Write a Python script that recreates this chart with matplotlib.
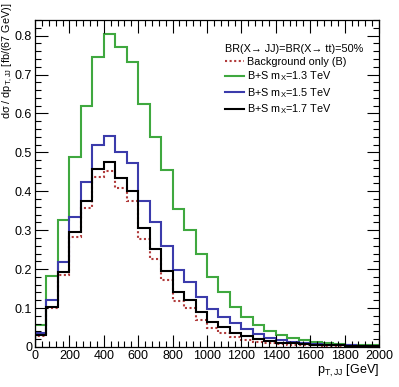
import numpy as np
import matplotlib
matplotlib.use("Agg")
import matplotlib.pyplot as plt
from matplotlib.ticker import MultipleLocator

plt.rcParams["font.family"] = ["Liberation Sans", "DejaVu Sans"]
plt.rcParams["mathtext.fontset"] = "custom"
plt.rcParams["mathtext.rm"] = "Liberation Sans"
plt.rcParams["mathtext.it"] = "Liberation Sans"

# 30 bins of 66.7 GeV from 0 to 2000 GeV
bin_edges = np.linspace(0, 2000, 31)

background = [0.028, 0.100, 0.185, 0.282, 0.356, 0.436, 0.453, 0.408, 0.375, 0.278,
              0.226, 0.172, 0.118, 0.101, 0.069, 0.048, 0.037, 0.026, 0.019, 0.014,
              0.010, 0.008, 0.006, 0.005, 0.004, 0.003, 0.003, 0.002, 0.002, 0.002]
sig_13 = [0.057, 0.182, 0.326, 0.487, 0.620, 0.746, 0.804, 0.771, 0.733, 0.623,
          0.539, 0.455, 0.354, 0.301, 0.239, 0.181, 0.142, 0.102, 0.076, 0.057,
          0.042, 0.031, 0.022, 0.017, 0.013, 0.010, 0.008, 0.006, 0.005, 0.004]
sig_15 = [0.035, 0.121, 0.219, 0.335, 0.425, 0.518, 0.543, 0.502, 0.472, 0.375,
          0.320, 0.259, 0.198, 0.168, 0.129, 0.098, 0.078, 0.061, 0.045, 0.033,
          0.024, 0.017, 0.013, 0.010, 0.008, 0.006, 0.005, 0.004, 0.003, 0.003]
sig_17 = [0.031, 0.102, 0.192, 0.296, 0.374, 0.457, 0.476, 0.434, 0.402, 0.305,
          0.253, 0.196, 0.142, 0.121, 0.091, 0.065, 0.051, 0.037, 0.027, 0.020,
          0.015, 0.011, 0.009, 0.007, 0.006, 0.005, 0.004, 0.003, 0.003, 0.002]

fig = plt.figure(figsize=(3.99, 3.87), dpi=100)
ax = fig.add_axes([0.0877, 0.1034, 0.8623, 0.8449])

ax.stairs(background, bin_edges, color="#b03a3a", lw=1.5, ls=(0, (1, 1.2)),
          label="Background only (B)")
ax.stairs(sig_13, bin_edges, color="#3fa83f", lw=1.5, label=r"B+S m$_{\rm X}$=1.3 TeV")
ax.stairs(sig_15, bin_edges, color="#3b3bab", lw=1.5, label=r"B+S m$_{\rm X}$=1.5 TeV")
ax.stairs(sig_17, bin_edges, color="black", lw=1.5, label=r"B+S m$_{\rm X}$=1.7 TeV")

ax.set_xlim(0, 2000)
ax.set_ylim(0, 0.84)
ax.xaxis.set_major_locator(MultipleLocator(200))
ax.xaxis.set_minor_locator(MultipleLocator(40))
ax.yaxis.set_minor_locator(MultipleLocator(0.02))
ax.set_yticks(np.arange(0, 0.81, 0.1))
ax.set_yticklabels(["0", "0.1", "0.2", "0.3", "0.4", "0.5", "0.6", "0.7", "0.8"])
ax.tick_params(which="both", direction="in", top=True, right=True, labelsize=9, width=0.8,
               pad=2)
ax.tick_params(which="major", length=9)
ax.tick_params(which="minor", length=4.5)
for s in ax.spines.values():
    s.set_linewidth(0.9)

ax.set_xlabel(r"p$_{\rm T,JJ}$ [GeV]", loc="right", fontsize=9, labelpad=1)
ax.set_ylabel(r"d$\sigma$ / dp$_{\rm T,JJ}$ [fb/(67 GeV)]", loc="top", fontsize=7.8)
ax.yaxis.set_label_coords(-0.058, 1.055)

leg = ax.legend(loc="upper right", bbox_to_anchor=(0.953, 0.926), frameon=False,
                fontsize=7.8, handlelength=1.75, handletextpad=0.3, labelspacing=0.25,
                borderpad=0, borderaxespad=0,
                title="BR(X\u2192 JJ)=BR(X\u2192 tt)=50%", title_fontsize=7.8)
leg._legend_box.align = "left"

fig.savefig("out.png", dpi=100)
